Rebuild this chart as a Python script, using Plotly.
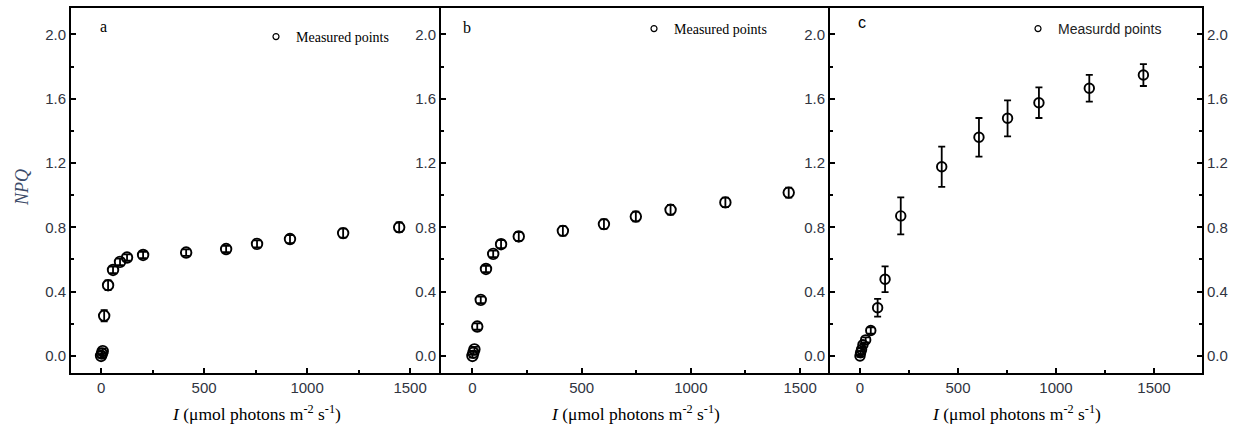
import plotly.graph_objects as go

# ---------------- data ----------------
x_a = [0, 4, 8, 15, 34, 58, 92, 126, 204, 413, 607, 757, 917, 1175, 1447]
y_a = [0.0, 0.015, 0.03, 0.25, 0.44, 0.535, 0.585, 0.612, 0.628, 0.643, 0.665, 0.697, 0.727, 0.764, 0.80]
e_a = [0.01, 0.012, 0.015, 0.035, 0.03, 0.02, 0.02, 0.02, 0.02, 0.02, 0.02, 0.022, 0.025, 0.028, 0.03]

x_b = [0, 4, 9, 22, 38, 62, 95, 131, 212, 414, 602, 748, 907, 1158, 1448]
y_b = [0.0, 0.02, 0.041, 0.183, 0.349, 0.541, 0.635, 0.695, 0.743, 0.778, 0.82, 0.867, 0.909, 0.955, 1.016]
e_b = [0.01, 0.012, 0.015, 0.02, 0.02, 0.02, 0.02, 0.025, 0.028, 0.03, 0.03, 0.03, 0.03, 0.03, 0.031]

x_c = [0, 3, 8, 15, 29, 55, 90, 128, 208, 417, 607, 753, 913, 1170, 1446]
y_c = [0.0, 0.02, 0.04, 0.07, 0.10, 0.158, 0.30, 0.477, 0.871, 1.177, 1.36, 1.478, 1.575, 1.665, 1.747]
e_c = [0.005, 0.01, 0.01, 0.01, 0.015, 0.02, 0.055, 0.08, 0.115, 0.125, 0.12, 0.112, 0.095, 0.083, 0.068]

panel_letters = ["a", "b", "c"]
legend_labels = ["Measured points", "Measured points", "Measurdd points"]
x_title = "<i>I</i> (μmol photons m<sup>-2</sup> s<sup>-1</sup>)"
y_title = "<i>NPQ</i>"

# ---------------- layout geometry ----------------
W, H = 1235, 432
def fx(px):
    return px / W
def fy(py):
    return 1 - py / H

x_dom = [(fx(71), fx(441)), (fx(441), fx(830)), (fx(830), fx(1202))]
y_dom = (fy(373), fy(8))
x_ranges = [[-146, 1650], [-144, 1637], [-153, 1745]]
y_range = [-0.106, 2.164]

TICKCOL = "#30343f"
fig = go.Figure()

series = [(x_a, y_a, e_a), (x_b, y_b, e_b), (x_c, y_c, e_c)]
msizes = [10.5, 10.5, 9.5]
for i, (xs, ys, es) in enumerate(series):
    n = "" if i == 0 else str(i + 1)
    fig.add_trace(go.Scatter(
        x=xs, y=ys, mode="markers", xaxis="x" + n, yaxis="y" + n,
        marker=dict(symbol="circle-open", size=msizes[i], color="black",
                    line=dict(width=1.9, color="black")),
        error_y=dict(type="data", array=es, visible=True, color="black",
                     thickness=1.8, width=3.5),
        showlegend=False, hoverinfo="skip"))
    # legend entry
    fig.add_trace(go.Scatter(
        x=[None], y=[None], mode="markers", xaxis="x" + n, yaxis="y" + n,
        marker=dict(symbol="circle-open", size=6, color="black",
                    line=dict(width=1.2, color="black")),
        name=legend_labels[i], showlegend=True,
        legend="legend" + n))

# invisible trace for the right axis of panel c
fig.add_trace(go.Scatter(x=[None], y=[None], xaxis="x3", yaxis="y4",
                         showlegend=False, hoverinfo="skip"))

axis_common = dict(showline=True, linewidth=2, linecolor="black",
                   ticks="inside", tickwidth=2, tickcolor="black",
                   showgrid=False, zeroline=False,
                   tickfont=dict(family="Liberation Sans, Arial", size=15, color=TICKCOL))

layout = dict(
    width=W, height=H,
    margin=dict(l=0, r=0, t=0, b=0, autoexpand=False),
    paper_bgcolor="white", plot_bgcolor="white",
)
for i in range(3):
    n = "" if i == 0 else str(i + 1)
    layout["xaxis" + n] = dict(axis_common, domain=list(x_dom[i]), range=x_ranges[i],
                               anchor="y" + n, mirror=True, ticklen=5,
                               tick0=0, dtick=500,
                               minor=dict(dtick=250, ticks="inside", ticklen=3,
                                          tickwidth=2, tickcolor="black"))
    layout["yaxis" + n] = dict(axis_common, domain=list(y_dom), range=y_range,
                               anchor="x" + n, side="left", ticklen=5,
                               tick0=0, dtick=0.4, tickformat=".1f",
                               minor=dict(dtick=0.2, ticks="inside", ticklen=3,
                                          tickwidth=2, tickcolor="black"))
layout["yaxis4"] = dict(axis_common, range=y_range, overlaying="y3", anchor="x3",
                        side="right", ticklen=5, tick0=0, dtick=0.4, tickformat=".1f",
                        minor=dict(dtick=0.2, ticks="inside", ticklen=3,
                                   tickwidth=2, tickcolor="black"))

# legends
leg_pos = [(278, 37), (656, 29), (1040, 29)]
leg_fonts = [dict(family="Liberation Serif, Times New Roman", size=14, color="black"),
             dict(family="Liberation Serif, Times New Roman", size=14, color="black"),
             dict(family="Liberation Sans, Arial", size=14, color="#222")]
for i in range(3):
    n = "" if i == 0 else str(i + 1)
    mx, my = leg_pos[i]
    layout["legend" + n] = dict(x=fx(mx - 22), y=fy(my), xanchor="left", yanchor="middle",
                                bgcolor="rgba(0,0,0,0)", font=leg_fonts[i],
                                borderwidth=0)

fig.update_layout(**layout)

# panel letters
letter_pos = [(103, 26), (467, 27), (862, 23)]
letter_fonts = ["Liberation Serif, Times New Roman", "Liberation Serif, Times New Roman",
                "Liberation Sans, Arial"]
for i, (lx, ly) in enumerate(letter_pos):
    fig.add_annotation(text=panel_letters[i], x=fx(lx), y=fy(ly), xref="paper", yref="paper",
                       showarrow=False, xanchor="center", yanchor="middle",
                       font=dict(family=letter_fonts[i], size=16, color="black"))

# x titles
for i in range(3):
    cx = (x_dom[i][0] + x_dom[i][1]) / 2
    fig.add_annotation(text=x_title, x=cx, y=fy(413), xref="paper", yref="paper",
                       showarrow=False, xanchor="center", yanchor="middle",
                       font=dict(family="Liberation Serif, Times New Roman", size=17.5, color="black"))

# y title
fig.add_annotation(text=y_title, x=fx(22), y=fy(188), xref="paper", yref="paper",
                   showarrow=False, textangle=-90, xanchor="center", yanchor="middle",
                   font=dict(family="Liberation Serif, Times New Roman", size=18, color="#3c4b69"))

fig.write_html("out.html", config={"displayModeBar": False},
               post_script="document.body.style.margin='0';document.body.style.padding='0';")
